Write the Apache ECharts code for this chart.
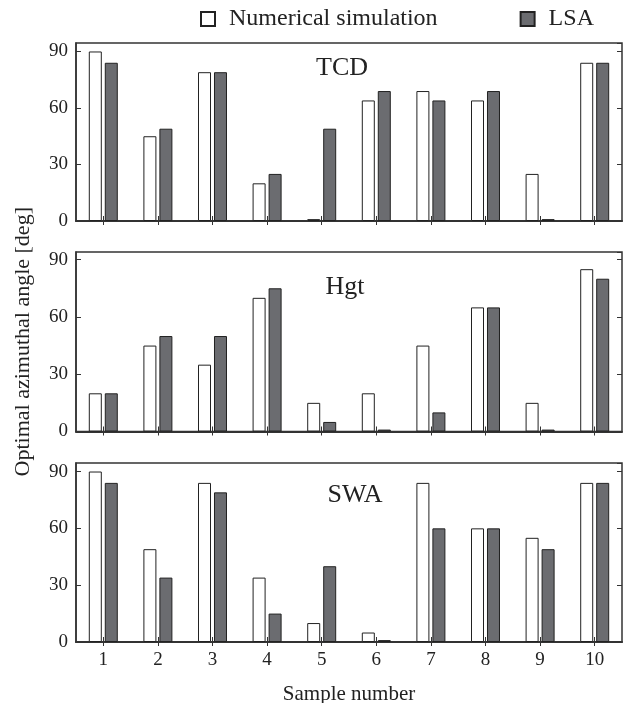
<!DOCTYPE html>
<html><head><meta charset="utf-8">
<script src="https://cdn.jsdelivr.net/npm/echarts@6/dist/echarts.min.js"></script>
<style>html,body{margin:0;padding:0;background:#fff}#c{width:633px;height:703px}</style>
</head><body><div id="c"></div>
<script>
var categories = ['1','2','3','4','5','6','7','8','9','10'];
var panelNames = ['TCD','Hgt','SWA'];
var tcdNum = [90,45,79,20,1,64,69,64,25,84];
var tcdLSA = [84,49,79,25,49,69,64,69,1,84];
var hgtNum = [20,45,35,70,15,20,45,65,15,85];
var hgtLSA = [20,50,50,75,5,1,10,65,1,80];
var swaNum = [90,49,84,34,10,5,84,60,55,84];
var swaLSA = [84,34,79,15,40,1,60,60,49,84];
var yTicks = [0,30,60,90];
var seriesNames = ['Numerical simulation','LSA'];

var FONT = 'Liberation Serif';
var TXT = '#222';
var chart = echarts.init(document.getElementById('c'), null, {renderer:'canvas'});
var grids = [
  {left:76, width:546, top:43, height:178},
  {left:76, width:546, top:252, height:179.5},
  {left:76, width:546, top:463, height:179}
];
var yMax = [94.5, 94, 94.5];
var numData = [tcdNum, hgtNum, swaNum];
var lsaData = [tcdLSA, hgtLSA, swaLSA];
var xAxes = [], yAxes = [], series = [], titles = [];
var lineC = '#333';
for (var i = 0; i < 3; i++) {
  grids[i].show = true; grids[i].borderColor = lineC; grids[i].borderWidth = 1.5; grids[i].backgroundColor = '#fff';
  grids[i].containLabel = false; grids[i].outerBoundsMode = 'none';
  xAxes.push({type:'category', gridIndex:i, data:categories, position:'bottom',
    axisLine:{show:true, lineStyle:{color:lineC, width:2}},
    axisTick:{show:true, inside:true, alignWithLabel:true, length:5, lineStyle:{color:lineC}},
    axisLabel:{show:i===2, fontFamily:FONT, fontSize:19, color:TXT, margin:9},
    name: i===2 ? 'Sample number' : '', nameLocation:'middle', nameGap:42,
    nameTextStyle:{fontFamily:FONT, fontSize:21, color:TXT}});
  xAxes.push({type:'category', gridIndex:i, data:categories, position:'top',
    axisLine:{show:false},
    axisTick:{show:true, inside:true, alignWithLabel:true, length:4, lineStyle:{color:lineC}},
    axisLabel:{show:false}});
  yAxes.push({type:'value', gridIndex:i, min:0, max:yMax[i], interval:30, position:'left',
    axisLine:{show:true, lineStyle:{color:lineC, width:1.5}},
    axisTick:{show:true, inside:true, length:5, lineStyle:{color:lineC}},
    splitLine:{show:false},
    axisLabel:{fontFamily:FONT, fontSize:19, color:TXT, margin:8, showMaxLabel:false,
      formatter:function(v){return yTicks.indexOf(v)>=0 ? String(v) : '';}},
    name: i===1 ? 'Optimal azimuthal angle [deg]' : '', nameLocation:'middle', nameGap:42,
    nameTextStyle:{fontFamily:FONT, fontSize:22, color:TXT}});
  yAxes.push({type:'value', gridIndex:i, min:0, max:yMax[i], interval:30, position:'right',
    axisLine:{show:false},
    axisTick:{show:true, inside:true, length:5, lineStyle:{color:lineC}},
    splitLine:{show:false}, axisLabel:{show:false}});
  series.push({name:seriesNames[0], type:'bar', xAxisIndex:2*i, yAxisIndex:2*i, data:numData[i],
    barWidth:13, barGap:'23%', itemStyle:{color:'#ffffff', borderColor:'#222', borderWidth:1}});
  series.push({name:seriesNames[1], type:'bar', xAxisIndex:2*i, yAxisIndex:2*i, data:lsaData[i],
    barWidth:13, barGap:'23%', itemStyle:{color:'#6b6c70', borderColor:'#222', borderWidth:1}});
}
var titlePos = [{left:342, top:55},{left:345, top:274},{left:355, top:482}];
for (var j = 0; j < 3; j++) {
  titles.push({text:panelNames[j], left:titlePos[j].left, top:titlePos[j].top, textAlign:'center', padding:0,
    textStyle:{fontFamily:FONT, fontSize:26, fontWeight:'normal', color:TXT}});
}
chart.setOption({
  animation:false,
  title: titles,
  legend:{data:[
      {name:seriesNames[0], icon:'rect'},
      {name:seriesNames[1], icon:'rect'}],
    top:7, left:200, itemWidth:14, itemHeight:14, itemGap:82, padding:0,
    textStyle:{fontFamily:FONT, fontSize:24, color:TXT, padding:[0,0,0,9]}},
  grid: grids, xAxis: xAxes, yAxis: yAxes, series: series
});
</script></body></html>
